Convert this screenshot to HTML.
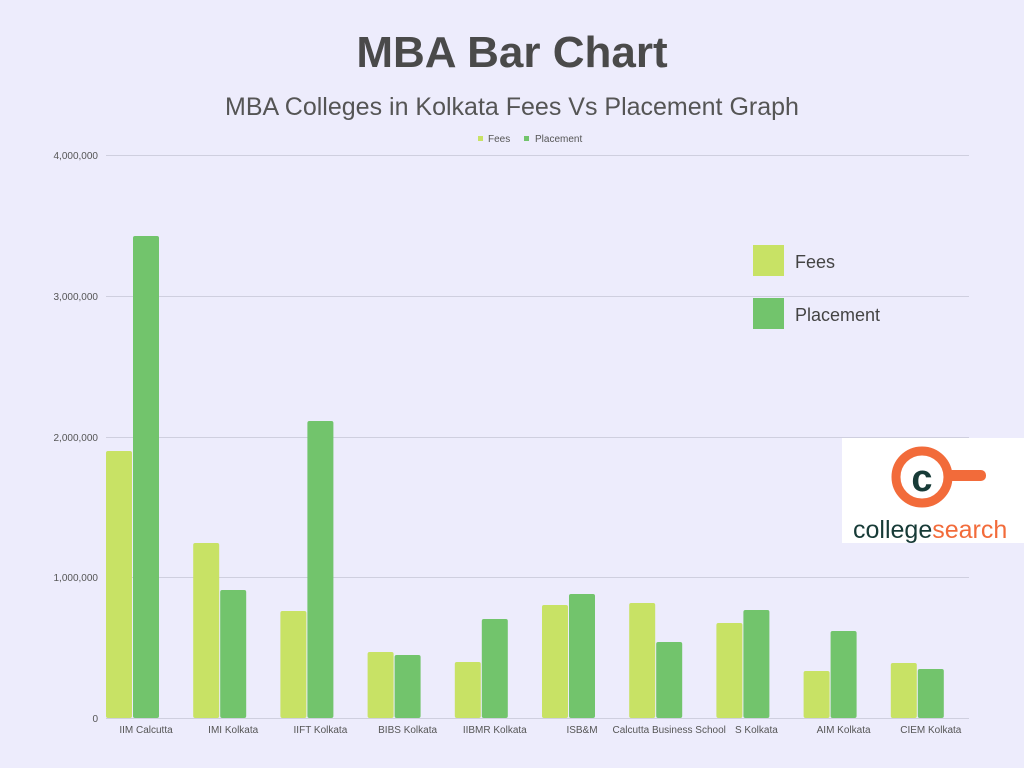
<!DOCTYPE html>
<html><head><style>
body{margin:0;width:1024px;height:768px;background:#edecfc;font-family:"Liberation Sans",sans-serif;position:relative;overflow:hidden}
.t{position:absolute;left:0;width:1024px;text-align:center;color:#4a4a4a}
</style></head><body>
<div class="t" style="top:28px;font-size:44px;font-weight:bold">MBA Bar Chart</div>
<div class="t" style="top:93px;font-size:25px;color:#555">MBA Colleges in Kolkata Fees Vs Placement Graph</div>
<svg width="1024" height="768" style="position:absolute;left:0;top:0" font-family="Liberation Sans, sans-serif">
<g stroke="#cfcfdf" stroke-width="1">
<line x1="106" x2="969" y1="155.5" y2="155.5"/><line x1="106" x2="969" y1="296.5" y2="296.5"/>
<line x1="106" x2="969" y1="437.5" y2="437.5"/><line x1="106" x2="969" y1="577.5" y2="577.5"/>
<line x1="106" x2="969" y1="718.5" y2="718.5"/></g>
<g font-size="10" fill="#555" text-anchor="end">
<text x="98" y="159">4,000,000</text><text x="98" y="300">3,000,000</text>
<text x="98" y="441">2,000,000</text><text x="98" y="581">1,000,000</text><text x="98" y="722">0</text></g>
<rect x="478" y="136" width="5" height="5" fill="#c8e265"/><text x="488" y="142" font-size="10" fill="#555">Fees</text>
<rect x="524" y="136" width="5" height="5" fill="#72c46c"/><text x="535" y="142" font-size="10" fill="#555">Placement</text>
<g id="b"></g>
<rect x="753" y="245" width="31" height="31" fill="#c8e265"/><text x="795" y="268" font-size="18" fill="#444">Fees</text>
<rect x="753" y="298" width="31" height="31" fill="#72c46c"/><text x="795" y="321" font-size="18" fill="#444">Placement</text>
<rect x="842" y="438" width="182" height="105" fill="#fff"/>
<circle cx="922" cy="477" r="26" fill="none" stroke="#f26b3a" stroke-width="9"/>
<rect x="944" y="470" width="42" height="11" rx="5" fill="#f26b3a"/>
<text x="922" y="491" font-size="38" font-weight="bold" fill="#173b37" text-anchor="middle">c</text>
<text x="853" y="538" font-size="25" fill="#173b37">college<tspan fill="#f26b3a">search</tspan></text>
</svg>
<script>
var f=[451,543,611,652,662,605,603,623,671,663],p=[236,590,421,655,619,594,642,610,631,669];
var n=["IIM Calcutta","IMI Kolkata","IIFT Kolkata","BIBS Kolkata","IIBMR Kolkata","ISB&M","Calcutta Business School","S Kolkata","AIM Kolkata","CIEM Kolkata"];
var s="";for(var i=0;i<10;i++){var x=106+i*87.2;
s+='<rect x="'+x+'" y="'+f[i]+'" width="26" height="'+(718-f[i])+'" rx="2" fill="#c8e265"/>';
s+='<rect x="'+(x+27)+'" y="'+p[i]+'" width="26" height="'+(718-p[i])+'" rx="2" fill="#72c46c"/>';
s+='<text x="'+(x+40)+'" y="733" font-size="10" fill="#555" text-anchor="middle">'+n[i].replace("&","&amp;")+'</text>';}
document.getElementById("b").innerHTML=s;
</script>
</body></html>
